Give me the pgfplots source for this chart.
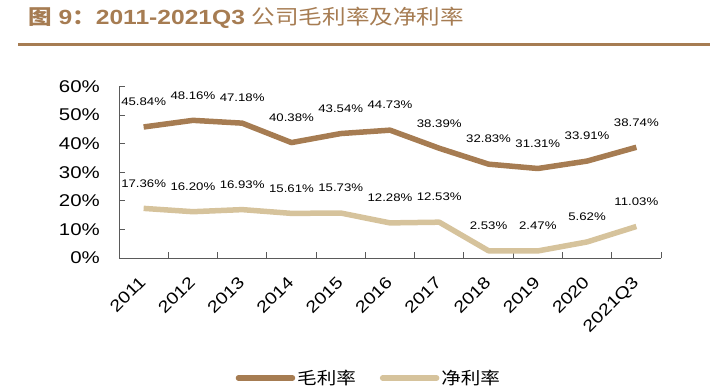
\documentclass[border=0pt]{standalone}
\usepackage{pgfplots}
\pgfplotsset{compat=1.18}
\usepackage{fontspec}
\setmainfont{Liberation Sans}[FakeStretch=1.2]
\newfontfamily\cjk{Noto Sans CJK SC}[FakeStretch=1.15]
\definecolor{brn}{RGB}{166,124,82}
\definecolor{lt}{RGB}{214,195,156}
\definecolor{axc}{RGB}{90,90,90}
\begin{document}
\begin{tikzpicture}
\useasboundingbox (0,0) rectangle (718bp,390bp);
\node[anchor=west, text=brn, inner sep=0pt] at (28bp,372bp) {\fontsize{20.5bp}{22bp}\selectfont\bfseries{\cjk 图} 9{\cjk ：}2011-2021Q3 {\cjk\mdseries 公司毛利率及净利率}};
\draw[brn, line width=3bp] (18bp,345bp) -- (710bp,345bp);
\begin{axis}[
  at={(119bp,132bp)}, anchor=south west, scale only axis,
  width=542bp, height=171.5bp,
  xmin=-0.5, xmax=10.5, ymin=0, ymax=60,
  axis lines=left, axis line style={-, axc, line width=0.9bp},
  tick style={axc, line width=0.9bp}, tick align=inside,
  major tick length=6bp, minor tick length=6bp,
  ytick={0,10,...,60},
  yticklabels={0\%,10\%,20\%,30\%,40\%,50\%,60\%},
  yticklabel style={font=\fontsize{17bp}{17bp}\selectfont, inner sep=0pt, xshift=-19bp, anchor=east},
  xtick={0,1,...,10},
  xticklabels={2011,2012,2013,2014,2015,2016,2017,2018,2019,2020,2021Q3},
  major x tick style={draw=none},
  minor xtick={-0.5,0.5,...,10.5},
  xticklabel style={yshift=-17bp, xshift=-5bp, rotate=45, anchor=north east, inner sep=0pt, font=\fontsize{16.5bp}{16.5bp}\selectfont},
  clip=false,
  nodes near coords, point meta=explicit symbolic,
  nodes near coords style={anchor=center, yshift=25bp, text=black, font=\fontsize{11bp}{11bp}\selectfont},
  legend columns=2,
  legend style={at={(0.461,-0.70)}, anchor=center, draw=none, fill=none,
    font=\cjk\fontsize{17bp}{17bp}\selectfont, inner xsep=0pt,
    /tikz/every even column/.append style={column sep=22bp}},
  legend image code/.code={\draw[#1, line cap=round] (0bp,0bp) -- (54bp,0bp);},
]
\addplot[brn, line width=5.5bp, line join=round] coordinates {
 (0,45.84) [45.84\%]
 (1,48.16) [48.16\%]
 (2,47.18) [47.18\%]
 (3,40.38) [40.38\%]
 (4,43.54) [43.54\%]
 (5,44.73) [44.73\%]
 (6,38.39) [38.39\%]
 (7,32.83) [32.83\%]
 (8,31.31) [31.31\%]
 (9,33.91) [33.91\%]
 (10,38.74) [38.74\%]
};
\addlegendentry{毛利率}
\addplot[lt, line width=5.5bp, line join=round] coordinates {
 (0,17.36) [17.36\%]
 (1,16.20) [16.20\%]
 (2,16.93) [16.93\%]
 (3,15.61) [15.61\%]
 (4,15.73) [15.73\%]
 (5,12.28) [12.28\%]
 (6,12.53) [12.53\%]
 (7,2.53) [2.53\%]
 (8,2.47) [2.47\%]
 (9,5.62) [5.62\%]
 (10,11.03) [11.03\%]
};
\addlegendentry{净利率}
\end{axis}
\end{tikzpicture}
\end{document}
